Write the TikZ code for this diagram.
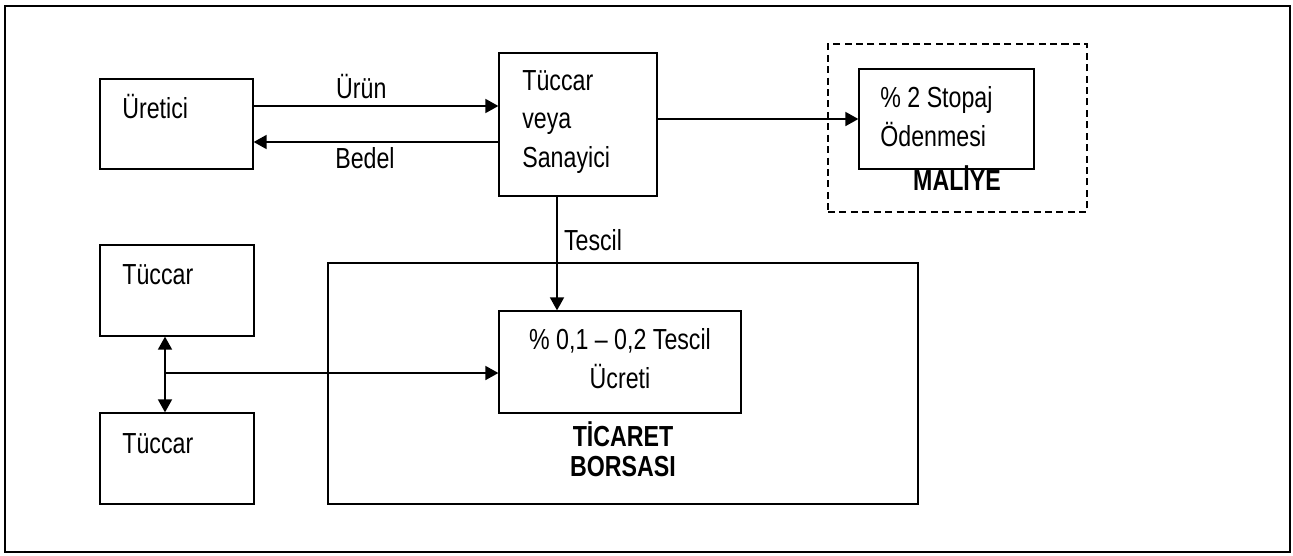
\documentclass[tikz,border=0pt]{standalone}
\usepackage{fontspec}
\setmainfont{Liberation Sans}[FakeStretch=0.8]
\usetikzlibrary{arrows.meta, positioning}

\begin{document}
\begin{tikzpicture}[x=0.02cm, y=-0.02cm, font=\fontsize{16.5}{22}\selectfont,
    box/.style={draw, line width=0.75pt, inner sep=0pt},
    txt/.style={inner sep=0pt, align=left},
    arr/.style={line width=1pt, -{Triangle[length=0.26cm, width=0.28cm]}},
    darr/.style={line width=1pt, {Triangle[length=0.26cm, width=0.28cm]}-{Triangle[length=0.26cm, width=0.28cm]}}]
  \useasboundingbox (0,0) rectangle (1293,555);
  \draw[line width=0.8pt] (5,6) rectangle (1290,552);
  % boxes
  \node[box, minimum width=3.06cm, minimum height=1.80cm] (uretici) at (176.5,124) {};
  \node[box, minimum width=3.16cm, minimum height=2.86cm] (sanayici) at (578,124.5) {};
  \node[box, dash pattern=on 4pt off 2.5pt, minimum width=5.18cm, minimum height=3.36cm] (maliye) at (957.5,128) {};
  \node[box, minimum width=3.50cm, minimum height=2.00cm] (stopaj) at (946.5,119) {};
  \node[box, minimum width=11.80cm, minimum height=4.82cm] (borsa) at (623,383.5) {};
  \node[box, minimum width=4.84cm, minimum height=2.04cm] (ucret) at (620,362) {};
  \node[box, minimum width=3.08cm, minimum height=1.82cm] (tuccarA) at (177,290.5) {};
  \node[box, minimum width=3.08cm, minimum height=1.82cm] (tuccarB) at (177,458.5) {};
  % texts
  \node[txt, anchor=base west] (tUretici) at (122,118) {Üretici};
  \node[txt, anchor=north west] (tSanayici) at (522,70) {Tüccar\\veya\\Sanayici};
  \node[txt, anchor=north west] (tStopaj) at (880,86) {\% 2 Stopaj\\Ödenmesi};
  \node[txt, anchor=base, font=\fontsize{16.5}{22}\selectfont\bfseries] (tMaliye) at (957,190) {MALİYE};
  \node[txt, align=center, anchor=north] (tUcret) at (620,328) {\% 0,1 – 0,2 Tescil\\Ücreti};
  \node[txt, align=center, anchor=south, font=\fontsize{16.5}{16.8}\selectfont\bfseries] (tBorsa) at (623,477) {TİCARET\\BORSASI};
  \node[txt, anchor=base west] (tTuccarA) at (122,284) {Tüccar};
  \node[txt, anchor=base west] (tTuccarB) at (122,453) {Tüccar};
  % connectors
  \coordinate (urun) at (0,106);
  \coordinate (bedel) at (0,142);
  \coordinate (tx) at (557,0);
  \coordinate (junc) at (165,373);
  \draw[arr] (uretici.east |- urun) -- (sanayici.west |- urun) node[above, pos=0.44, inner sep=3.4pt] (lUrun) {Ürün};
  \draw[arr] (sanayici.west |- bedel) -- (uretici.east |- bedel) node[below, pos=0.545, inner sep=2.8pt] (lBedel) {Bedel};
  \draw[arr] (sanayici.east |- stopaj.west) -- (stopaj.west);
  \draw[arr] (tx |- sanayici.south) -- (tx |- ucret.north) node[right, pos=0.38, inner sep=3.5pt] (lTescil) {Tescil};
  \draw[darr] (junc |- tuccarA.south) -- (junc |- tuccarB.north);
  \draw[arr] (junc) -- (junc -| ucret.west);
\end{tikzpicture}
\end{document}
